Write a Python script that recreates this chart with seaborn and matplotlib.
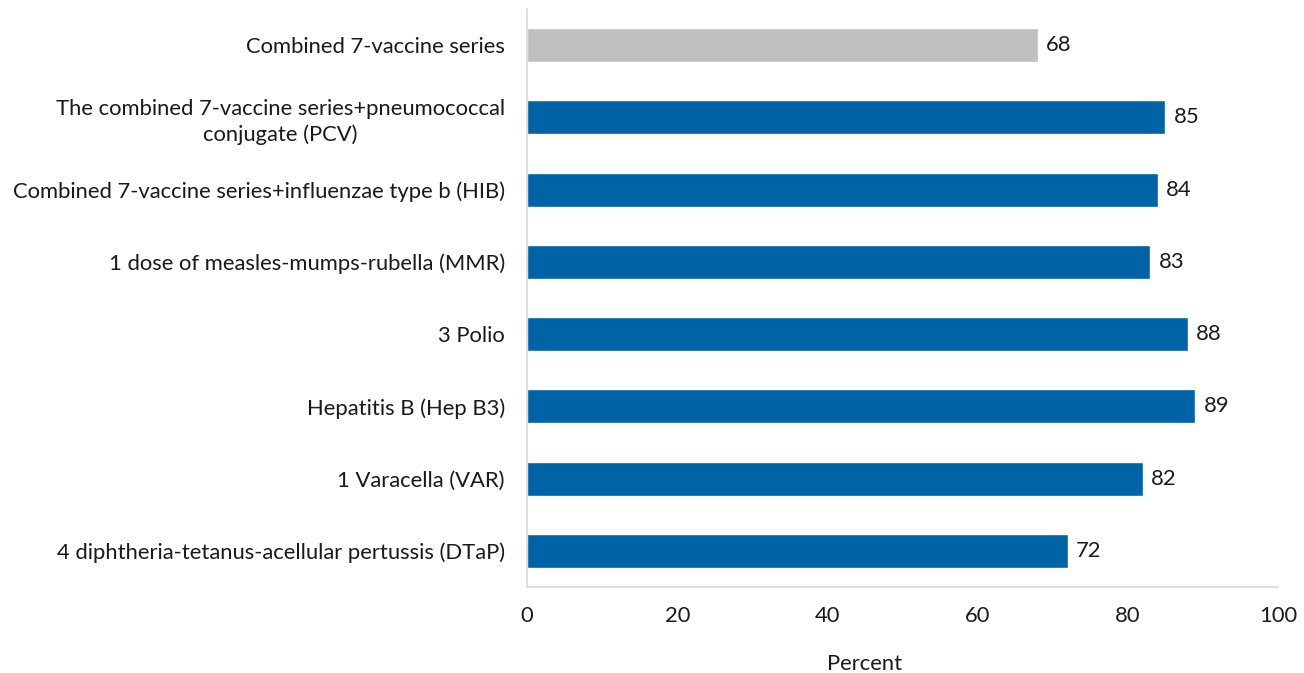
import matplotlib
matplotlib.use("Agg")
import matplotlib.pyplot as plt
import seaborn as sns
import pandas as pd

# Data
categories = [
    "Combined 7-vaccine series",
    "The combined 7-vaccine series+pneumococcal\nconjugate (PCV)",
    "Combined 7-vaccine series+influenzae type b (HIB)",
    "1 dose of measles-mumps-rubella (MMR)",
    "3 Polio",
    "Hepatitis B (Hep B3)",
    "1 Varacella (VAR)",
    "4 diphtheria-tetanus-acellular pertussis (DTaP)",
]
values = [68, 85, 84, 83, 88, 89, 82, 72]
colors = ["#bfbfbf"] + ["#0063a6"] * 7
x_ticks = [0, 20, 40, 60, 80, 100]

FS = 15.8
TXT = "#1a1a1a"

sns.set_style("white")
plt.rcParams["font.family"] = ["Lato", "DejaVu Sans"]

df = pd.DataFrame({"category": categories, "value": values})

fig = plt.figure(figsize=(13.04, 6.73), dpi=100)
ax = fig.add_axes([527 / 1304, 1 - 587 / 673, (1278 - 527) / 1304,
                   (587 - 9) / 673])
sns.barplot(data=df, x="value", y="category", hue="category",
            palette=colors, legend=False, width=0.47, ax=ax,
            saturation=1)

for cont in ax.containers:
    ax.bar_label(cont, fmt="%d", padding=6, fontsize=FS, color=TXT)

ax.set_xlim(0, 100)
ax.set_ylim(len(categories) - 0.5, -0.5)
ax.set_xticks(x_ticks)
ax.set_xlabel("Percent", fontsize=FS, labelpad=20, color=TXT)
ax.xaxis.label.set_x(0.45)
ax.set_ylabel("")
ax.tick_params(axis="x", length=0, pad=14, labelsize=FS, colors=TXT)
ax.tick_params(axis="y", length=0, pad=16, labelsize=FS, colors=TXT)
for lab in ax.get_yticklabels():
    lab.set_multialignment("center")
    lab.set_linespacing(1.3)

sns.despine(ax=ax, top=True, right=True)
for side in ("left", "bottom"):
    ax.spines[side].set_color("#d9d9d9")
    ax.spines[side].set_linewidth(1.2)

fig.savefig("out.png", dpi=100)
